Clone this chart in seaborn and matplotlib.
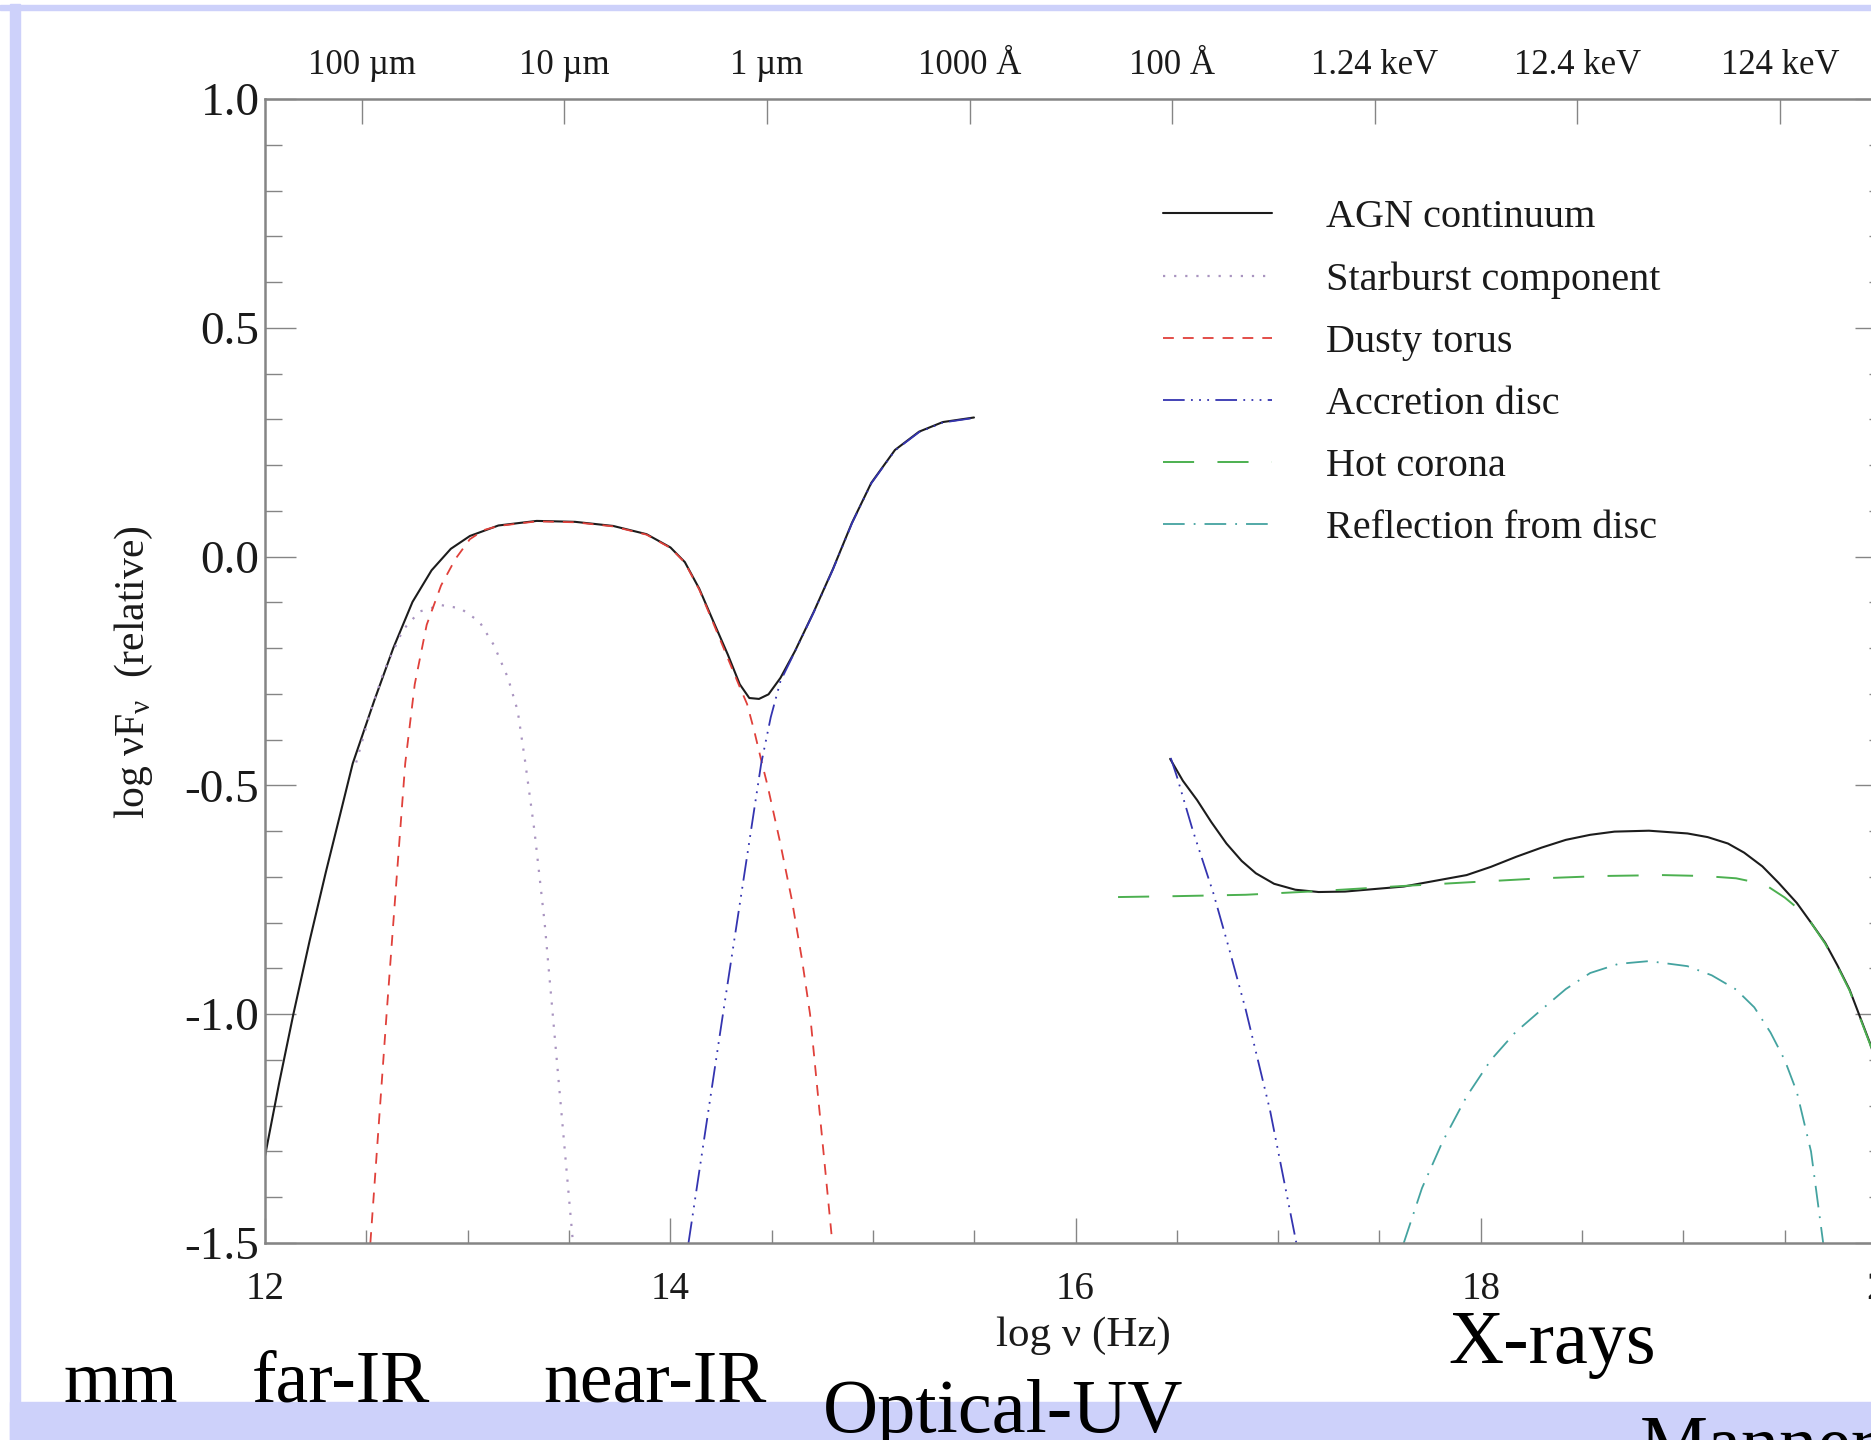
import numpy as np
import matplotlib
matplotlib.use("Agg")
import matplotlib.pyplot as plt
import matplotlib.ticker as mticker
from matplotlib.patches import Rectangle
import seaborn as sns

# =========================
# DATA (log nu in Hz, log nuFnu relative)
# =========================

agn_ir_x = [12.0, 12.07, 12.14, 12.22, 12.30, 12.37, 12.433, 12.539, 12.633, 12.728,
            12.822, 12.917, 13.011, 13.152, 13.341, 13.530, 13.718, 13.883, 14.001, 14.072,
            14.143, 14.213, 14.284, 14.343, 14.390, 14.438, 14.485, 14.544, 14.615, 14.709,
            14.803, 14.897, 14.992, 15.109, 15.228, 15.345, 15.499]
agn_ir_y = [-1.31, -1.15, -1.0, -0.84, -0.69, -0.565, -0.452, -0.315, -0.200, -0.099,
            -0.030, 0.017, 0.045, 0.068, 0.078, 0.076, 0.067, 0.049, 0.020, -0.012,
            -0.070, -0.142, -0.214, -0.279, -0.309, -0.311, -0.301, -0.265, -0.207, -0.120,
            -0.027, 0.074, 0.161, 0.233, 0.273, 0.294, 0.304]

agn_x_x = [16.467, 16.53, 16.60, 16.67, 16.745, 16.82, 16.89, 16.98, 17.085, 17.2,
           17.33, 17.62, 17.93, 18.05, 18.175, 18.30, 18.42, 18.54, 18.66, 18.83,
           19.02, 19.12, 19.22, 19.30, 19.39, 19.47, 19.56, 19.63, 19.70, 19.76,
           19.82, 19.92, 20.0]
agn_x_y = [-0.442, -0.49, -0.532, -0.58, -0.627, -0.665, -0.692, -0.715, -0.728, -0.733,
           -0.732, -0.721, -0.696, -0.678, -0.656, -0.636, -0.619, -0.608, -0.601, -0.599,
           -0.605, -0.613, -0.627, -0.647, -0.677, -0.713, -0.757, -0.80, -0.844, -0.893,
           -0.946, -1.062, -1.17]

starburst_x = [12.45, 12.52, 12.587, 12.681, 12.763, 12.869, 12.964, 13.058, 13.129, 13.199,
               13.247, 13.283, 13.33, 13.38, 13.42, 13.47, 13.52]
starburst_y = [-0.45, -0.34, -0.25, -0.16, -0.12, -0.106, -0.113, -0.142, -0.193, -0.265,
               -0.337, -0.445, -0.6, -0.8, -1.0, -1.25, -1.5]

torus_x = [12.52, 12.56, 12.60, 12.645, 12.692, 12.739, 12.798, 12.869, 12.94, 13.011,
           13.08, 13.152, 13.341, 13.530, 13.718, 13.883, 14.001, 14.072, 14.143, 14.213,
           14.284, 14.343, 14.379, 14.414, 14.449, 14.48, 14.54, 14.60, 14.65, 14.69,
           14.745, 14.80]
torus_y = [-1.5, -1.25, -1.0, -0.73, -0.452, -0.279, -0.149, -0.063, -0.005, 0.038,
           0.058, 0.067, 0.077, 0.075, 0.066, 0.048, 0.019, -0.013, -0.072, -0.146,
           -0.222, -0.285, -0.322, -0.38, -0.445, -0.5, -0.62, -0.75, -0.88, -1.0,
           -1.25, -1.5]

disc_uv_x = [14.09, 14.175, 14.26, 14.355, 14.449, 14.496, 14.544, 14.615, 14.709, 14.803,
             14.897, 14.992, 15.109, 15.228, 15.345, 15.499]
disc_uv_y = [-1.5, -1.25, -1.0, -0.725, -0.452, -0.351, -0.272, -0.208, -0.121, -0.028,
             0.073, 0.160, 0.232, 0.272, 0.293, 0.303]

disc_x_x = [16.47, 16.50, 16.58, 16.68, 16.76, 16.84, 16.96, 17.09]
disc_x_y = [-0.44, -0.48, -0.60, -0.735, -0.86, -0.99, -1.21, -1.5]

corona_x = [16.21, 16.5, 16.84, 17.2, 17.57, 17.93, 18.30, 18.6, 18.90, 19.1,
            19.26, 19.40, 19.50, 19.56, 19.63, 19.70, 19.76, 19.82, 19.92, 20.0]
corona_y = [-0.744, -0.742, -0.739, -0.731, -0.721, -0.712, -0.703, -0.698, -0.696, -0.698,
            -0.703, -0.716, -0.745, -0.767, -0.80, -0.846, -0.895, -0.948, -1.064, -1.17]

reflection_x = [17.62, 17.71, 17.81, 17.93, 18.05, 18.17, 18.30, 18.42, 18.54, 18.68,
                18.83, 19.02, 19.14, 19.26, 19.35, 19.43, 19.50, 19.56, 19.63, 19.69]
reflection_y = [-1.5, -1.38, -1.28, -1.18, -1.10, -1.04, -0.99, -0.945, -0.91, -0.89,
                -0.884, -0.895, -0.915, -0.946, -0.985, -1.04, -1.10, -1.17, -1.30, -1.5]

# top axis: wavelength / energy markers
top_tick_pos = [12.477, 13.477, 14.477, 15.477, 16.477, 17.477, 18.477, 19.477]
top_tick_labels = ["100 µm", "10 µm", "1 µm", "1000 Å", "100 Å",
                   "1.24 keV", "12.4 keV", "124 keV"]

band_labels = ["mm", "far-IR", "near-IR", "Optical-UV", "X-rays"]

# =========================
# STYLE
# =========================

sns.set_theme(style="ticks")
plt.rcParams["font.family"] = ["Liberation Serif", "DejaVu Serif"]
plt.rcParams["mathtext.fontset"] = "custom"
plt.rcParams["mathtext.rm"] = "Liberation Serif"
plt.rcParams["axes.unicode_minus"] = False

GREY = "#858585"
LAVENDER = "#cdd1fa"
TXT = "#1a1a1a"

W, H = 1871, 1440
fig = plt.figure(figsize=(W / 100, H / 100), dpi=100, facecolor="white")

# slide frame
fig.patches.append(Rectangle((10 / W, 0), 10 / W, 1 - 4 / H, transform=fig.transFigure,
                             color=LAVENDER, zorder=0))
fig.patches.append(Rectangle((0, 1 - 10 / H), 1, 5 / H, transform=fig.transFigure,
                             color=LAVENDER, zorder=0))
fig.patches.append(Rectangle((10 / W, 0), 1, 38 / H, transform=fig.transFigure,
                             color=LAVENDER, zorder=0))

ax = fig.add_axes([265 / W, 1 - 1243 / H, (1886 - 265) / W, (1243 - 99) / H])

# =========================
# CURVES
# =========================

lw = 1.5
sns.lineplot(x=agn_ir_x, y=agn_ir_y, ax=ax, color="#1c1c1c", lw=lw,
             sort=False, estimator=None, label="AGN continuum")
sns.lineplot(x=agn_x_x, y=agn_x_y, ax=ax, color="#1c1c1c", lw=lw,
             sort=False, estimator=None)

sns.lineplot(x=starburst_x, y=starburst_y, ax=ax, color="#a994c0", lw=1.6,
             linestyle=(0, (1, 4)), sort=False, estimator=None,
             label="Starburst component")

sns.lineplot(x=torus_x, y=torus_y, ax=ax, color="#e0403a", lw=1.3,
             linestyle=(0, (6, 5)), sort=False, estimator=None, label="Dusty torus")

disc_ls = (0, (12, 3.5, 1, 3.5, 1, 3.5, 1, 3.5))
sns.lineplot(x=disc_uv_x, y=disc_uv_y, ax=ax, color="#3434b0", lw=1.3,
             linestyle=disc_ls, sort=False, estimator=None, label="Accretion disc")
sns.lineplot(x=disc_x_x, y=disc_x_y, ax=ax, color="#3434b0", lw=1.3,
             linestyle=disc_ls, sort=False, estimator=None)

sns.lineplot(x=corona_x, y=corona_y, ax=ax, color="#4cb050", lw=1.4,
             linestyle=(0, (16, 12)), sort=False, estimator=None, label="Hot corona")

sns.lineplot(x=reflection_x, y=reflection_y, ax=ax, color="#44a3a0", lw=1.3,
             linestyle=(0, (12, 5, 1, 5)), sort=False, estimator=None,
             label="Reflection from disc")

# =========================
# AXES
# =========================

ax.set_xlim(12, 20)
ax.set_ylim(-1.5, 1.0)
ax.set_xlabel("")
ax.set_ylabel("")

for side in ["left", "right", "top", "bottom"]:
    ax.spines[side].set_visible(True)
    ax.spines[side].set_color(GREY)
    ax.spines[side].set_linewidth(1.8)

ax.xaxis.set_major_locator(mticker.MultipleLocator(2))
ax.xaxis.set_minor_locator(mticker.MultipleLocator(0.5))
ax.yaxis.set_major_locator(mticker.MultipleLocator(0.5))
ax.yaxis.set_minor_locator(mticker.MultipleLocator(0.1))
ax.yaxis.set_major_formatter(mticker.FormatStrFormatter("%.1f"))

ax.tick_params(axis="x", which="major", direction="in", length=18, width=1,
               color=GREY, labelsize=28, pad=20, labelcolor=TXT, top=False, bottom=True)
ax.tick_params(axis="x", which="minor", direction="in", length=9.5, width=1,
               color=GREY, top=False, bottom=True)
ax.tick_params(axis="y", which="major", direction="in", length=22, width=1,
               color=GREY, labelsize=34, pad=4, labelcolor=TXT, left=True, right=True)
ax.tick_params(axis="y", which="minor", direction="in", length=12, width=1,
               color=GREY, left=True, right=True)

top = ax.twiny()
top.set_xlim(ax.get_xlim())
top.set_xticks(top_tick_pos)
top.set_xticklabels(top_tick_labels)
top.tick_params(axis="x", direction="in", length=18, width=1, color=GREY,
                labelsize=25, pad=12, labelcolor=TXT)
for side in ["left", "right", "top", "bottom"]:
    top.spines[side].set_visible(False)

# legend
ax.legend(loc="upper left", bbox_to_anchor=(1163 / W, 1 - 199 / H),
          bbox_transform=fig.transFigure, frameon=False, fontsize=29,
          handlelength=2.7, handletextpad=1.35, labelspacing=0.62,
          borderpad=0, borderaxespad=0, labelcolor=TXT)

# axis titles
fig.text(1083 / W, 1 - 1336 / H, "log ν (Hz)", ha="center", va="center",
         fontsize=31, color=TXT)
fig.text(134 / W, 1 - 672 / H, r"log νF$_{\mathrm{ν}}$  (relative)", ha="center",
         va="center", rotation=90, fontsize=30, color=TXT)

# band labels
band_x = [121, 341, 655, 1003, 1552]
band_base = [1402, 1402, 1402, 1432, 1363]
band_size = [53, 53, 53, 55, 55]
for lab, bx, by, fs in zip(band_labels, band_x, band_base, band_size):
    fig.text(bx / W, 1 - by / H, lab, ha="center", va="baseline",
             fontsize=fs, color="black")

fig.text(1640 / W, 1 - 1468 / H, "Manners", ha="left", va="baseline",
         fontsize=55, color="black")

fig.savefig("out.png", dpi=100, facecolor="white")
